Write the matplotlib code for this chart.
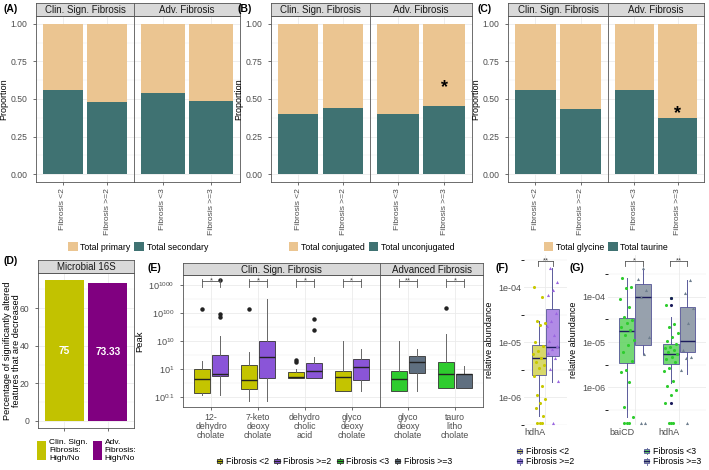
import numpy as np
import matplotlib
matplotlib.use('Agg')
import matplotlib.pyplot as plt
from matplotlib.patches import Rectangle, Patch
from matplotlib.lines import Line2D
from matplotlib.legend_handler import HandlerBase

plt.rcParams['font.family'] = ['Liberation Sans', 'DejaVu Sans']
plt.rcParams['mathtext.fontset'] = 'custom'
plt.rcParams['mathtext.rm'] = 'Liberation Sans'
plt.rcParams['mathtext.it'] = 'Liberation Sans:italic'
plt.rcParams['mathtext.bf'] = 'Liberation Sans:bold'

# ---------------- data ----------------
facet_names = ['Clin. Sign. Fibrosis', 'Adv. Fibrosis']
facet_groups = [['Fibrosis <2', 'Fibrosis >=2'], ['Fibrosis <3', 'Fibrosis >=3']]
A_secondary = [[0.560, 0.482], [0.542, 0.487]]
B_unconjugated = [[0.399, 0.439], [0.399, 0.454]]
C_taurine = [[0.557, 0.434], [0.561, 0.376]]
A_legend = ['Total primary', 'Total secondary']
B_legend = ['Total conjugated', 'Total unconjugated']
C_legend = ['Total glycine', 'Total taurine']
B_star = (1, 1, 0.573)   # facet, bar, height
C_star = (1, 1, 0.405)

D_labels = ['Clin. Sign.\nFibrosis:\nHigh/No', 'Adv.\nFibrosis:\nHigh/No']
D_values = [75, 73.33]
D_text = ['75', '73.33']

E_facets = ['Clin. Sign. Fibrosis', 'Advanced Fibrosis']
E_groups1 = ['12-\ndehydro\ncholate', '7-keto\ndeoxy\ncholate', 'dehydro\ncholic\nacid', 'glyco\ndeoxy\ncholate']
E_groups2 = ['glyco\ndeoxy\ncholate', 'tauro\nlitho\ncholate']
E_legend = ['Fibrosis <2', 'Fibrosis >=2', 'Fibrosis <3', 'Fibrosis >=3']
# box stats in units of log10(Peak): whislo, q1, med, q3, whishi, fliers
E_low1 = [(0.118, 0.143, 0.43, 0.975, 1.93, [142]),
          (0.074, 0.188, 0.394, 1.39, 3.95, [142]),
          (0.46, 0.46, 0.50, 0.78, 1.03, [1.82, 2.1]),
          (0.168, 0.168, 0.518, 0.869, 10.0, [])]
E_high1 = [(0.118, 0.54, 0.68, 3.24, 15.1, [74, 92, 1500]),
           (0.074, 0.477, 2.68, 10.3, 316, []),
           (0.49, 0.49, 0.83, 1.68, 2.75, [24.7, 59.6]),
           (0.168, 0.40, 1.15, 2.28, 5.06, [])]
E_low2 = [(0.168, 0.168, 0.451, 0.869, 10.0, []),
          (0.205, 0.205, 0.647, 1.73, 18.2, [155])]
E_high2 = [(0.168, 0.738, 1.73, 2.91, 5.06, []),
           (0.205, 0.205, 0.637, 0.663, 1.28, [])]
E_sig1 = ['*', '*', '*', '*']
E_sig2 = ['**', '*']
E_ticks = [0.1, 1, 10, 100, 1000]
E_ticklabels = [r'$10^{0.1}$', r'$10^{1}$', r'$10^{10}$', r'$10^{100}$', r'$10^{1000}$']

# F / G : log10(relative abundance)
F_gene = ['hdhA']
F_low_box = (-6.34, -5.586, -5.284, -5.056, -4.622)
F_high_box = (-5.718, -5.255, -5.085, -4.392, -3.646)
F_low_pts = [-4.0, -4.18, -4.61, -4.65, -4.69, -4.99, -5.07, -5.16, -5.22, -5.28, -5.35,
             -5.41, -5.46, -5.62, -5.80, -5.95, -6.02, -6.10, -6.20, -6.34]
F_high_pts = [-3.65, -3.90, -4.05, -4.14, -4.47, -4.62, -4.71, -4.86, -4.98, -5.07, -5.13,
              -5.19, -5.28, -5.49, -5.71]
F_zero = -6.46
F_zero_counts = [3, 1]
F_legend = ['Fibrosis <2', 'Fibrosis >=2']

G_genes = ['baiCD', 'hdhA']
G_low_box = [(-6.649, -5.470, -4.757, -4.477, -3.581),
             (-5.905, -5.492, -5.272, -5.051, -4.442)]
G_high_box = [(-5.272, -5.066, -4.013, -3.726, -3.36),
              (-5.713, -5.214, -4.971, -4.234, -3.631)]
G_low_pts = [[-3.58, -3.78, -3.81, -4.04, -4.22, -4.44, -4.51, -4.59, -4.66, -4.74, -4.85,
              -4.96, -5.07, -5.21, -5.43, -5.62, -5.66, -5.88, -6.43, -6.65],
             [-4.02, -4.18, -4.61, -4.66, -4.79, -4.88, -4.97, -5.05, -5.10, -5.14, -5.18,
              -5.23, -5.27, -5.32, -5.37, -5.45, -5.58, -5.64, -5.86, -5.96, -6.06, -6.17, -6.35]]
G_high_pts = [[-3.36, -3.61, -3.85, -4.0, -4.88, -5.27],
              [-3.63, -3.92, -4.26, -4.59, -5.18, -5.33, -5.35, -5.61]]
G_low_outliers = [[], [-4.02, -4.18, -6.35]]
G_zero = -6.795
G_zero_counts = [[3, 2], [3, 1]]
G_sig = ['*', '**']
F_sig = ['**']
G_legend = ['Fibrosis <3', 'Fibrosis >=3']

# ---------------- style ----------------
TAN = '#EBC591'
TEAL = '#3F7272'
D_COLORS = ['#C2C200', '#800080']
E_COLORS = ['#C4C400', '#8A55D8', '#2ECC2E', '#5F6F80']
FG_FILL = ['#D4D45A', '#A97FE4', '#66D466', '#8C97A4']
FG_PT = ['#C8C800', '#9A66E0', '#2ECC2E', '#6E7E8E']
FG_EDGE = '#5A5A9A'
FG_MED = '#1C1C5C'
GRID = '#EBEBEB'
BORDER = '#555555'
STRIP = '#D9D9D9'
TXT = '#4D4D4D'

W, H = 709, 470
fig = plt.figure(figsize=(W / 100, H / 100), dpi=100)


def ax_px(x0, y0, x1, y1):
    return fig.add_axes([x0 / W, 1 - y1 / H, (x1 - x0) / W, (y1 - y0) / H])


def strip(x0, x1, y0, y1, text, fs=7):
    s = ax_px(x0, y0, x1, y1)
    s.set_facecolor(STRIP)
    s.set_xticks([]); s.set_yticks([])
    for sp in s.spines.values():
        sp.set_color(BORDER); sp.set_linewidth(0.6)
    s.text(0.5, 0.45, text, ha='center', va='center', fontsize=fs, color='#1A1A1A',
           transform=s.transAxes)
    return s


def style_frame(ax):
    for sp in ax.spines.values():
        sp.set_color(BORDER); sp.set_linewidth(0.6)
    ax.tick_params(length=2.5, width=0.5, color='#333333', labelcolor=TXT)
    ax.set_axisbelow(True)


def panel_letter(x, y, t):
    fig.text(x / W, 1 - y / H, t, fontsize=7.5, fontweight='bold', ha='left', va='center')


# ---------------- A / B / C ----------------
def prop_panel(xs, vals, leg, star, letter, lx):
    for fi in range(2):
        ax = ax_px(xs[fi], 16, xs[fi + 1], 182)
        strip(xs[fi], xs[fi + 1], 3, 16, facet_names[fi])
        x = np.arange(1, 3)
        v = np.array(vals[fi])
        ax.bar(x, v, width=0.9, color=TEAL, zorder=2)
        ax.bar(x, 1 - v, bottom=v, width=0.9, color=TAN, zorder=2)
        ax.set_xlim(0.4, 2.6)
        ax.set_ylim(-0.053, 1.053)
        ax.set_xticks(x)
        ax.set_xticklabels(facet_groups[fi], rotation=90, fontsize=6.1, va='top', ha='center')
        ax.set_yticks([0, 0.25, 0.5, 0.75, 1.0])
        ax.set_yticks([0.125, 0.375, 0.625, 0.875], minor=True)
        ax.grid(which='major', color=GRID, lw=0.6)
        ax.grid(which='minor', axis='y', color=GRID, lw=0.3)
        style_frame(ax)
        ax.tick_params(axis='x', pad=2)
        ax.tick_params(which='minor', length=0)
        if fi == 0:
            ax.set_yticklabels(['0.00', '0.25', '0.50', '0.75', '1.00'], fontsize=6.2)
            ax.set_ylabel('Proportion', fontsize=6.5, labelpad=2)
        else:
            ax.tick_params(axis='y', length=0, labelleft=False)
        if star is not None and star[0] == fi:
            ax.text(x[star[1]], star[2], '*', fontsize=13, fontweight='bold',
                    ha='center', va='center', zorder=3)
    cx = (xs[0] + xs[2]) / 2
    handles = [Patch(facecolor=TAN), Patch(facecolor=TEAL)]
    fig.legend(handles, leg, loc='center', bbox_to_anchor=(cx / W, 1 - 247 / H), ncol=2,
               frameon=False, fontsize=6.3, handlelength=1.1, handleheight=1.1,
               handletextpad=0.3, columnspacing=0.45, borderpad=0, borderaxespad=0)
    panel_letter(lx, 9, letter)


prop_panel([36, 134, 240], A_secondary, A_legend, None, '(A)', 4)
prop_panel([271, 370, 472], B_unconjugated, B_legend, B_star, '(B)', 237)
prop_panel([508, 608, 704], C_taurine, C_legend, C_star, '(C)', 478)

# ---------------- D ----------------
axD = ax_px(38, 273, 134, 428)
strip(38, 134, 260, 273, 'Microbial 16S')
xd = np.arange(1, 3)
axD.bar(xd, D_values, width=0.9, color=D_COLORS, zorder=2)
for xi, vi, ti in zip(xd, D_values, D_text):
    axD.text(xi, vi / 2, ti, color='white', fontsize=7.3, fontweight='bold',
             ha='center', va='center', zorder=3)
axD.set_xlim(0.4, 2.6)
axD.set_ylim(-3.75, 78.75)
axD.set_yticks([0, 20, 40, 60])
axD.set_yticks([10, 30, 50, 70], minor=True)
axD.set_xticks(xd)
axD.set_xticklabels(['', ''])
axD.grid(which='major', color=GRID, lw=0.6)
axD.grid(which='minor', axis='y', color=GRID, lw=0.3)
style_frame(axD)
axD.tick_params(which='minor', length=0)
axD.tick_params(axis='y', labelsize=6.2)
axD.set_ylabel('Percentage of significantly altered\nfeatures that are decreased',
               fontsize=6.6, linespacing=1.05)
axD.yaxis.set_label_coords(-17 / 96, 0.5)
fig.legend([Patch(facecolor=c) for c in D_COLORS], D_labels, loc='upper left',
           bbox_to_anchor=(37 / W, 1 - 439 / H), ncol=2, frameon=False, fontsize=6.0,
           handlelength=1.1, handleheight=3.0, handletextpad=0.35, columnspacing=0.6,
           borderpad=0, borderaxespad=0)
panel_letter(4, 261, '(D)')


# ---------------- E ----------------
def mkstats(t):
    return dict(whislo=t[0], q1=t[1], med=t[2], q3=t[3], whishi=t[4], fliers=t[5])


def E_facet(x0, x1, groups, low, high, sig, colors, first):
    ax = ax_px(x0, 275, x1, 407)
    ax.set_yscale('log')
    n = len(groups)
    pos = np.arange(1, n + 1)
    for stats, off, col in [(low, -0.19, colors[0]), (high, 0.19, colors[1])]:
        ax.bxp([mkstats(s) for s in stats], positions=pos + off, widths=0.34,
               patch_artist=True, showcaps=False, manage_ticks=False,
               boxprops=dict(facecolor=col, edgecolor='#333333', lw=0.6),
               medianprops=dict(color='#222222', lw=1.0),
               whiskerprops=dict(color='#666666', lw=0.7),
               flierprops=dict(marker='o', markersize=2.2, markerfacecolor='#222222',
                               markeredgecolor='#222222'),
               zorder=2)
    # significance brackets
    for p, s in zip(pos, sig):
        xa, xb = p - 0.19, p + 0.19
        yl, yt, yb = 1390, 1700, 850
        ax.plot([xa, xb], [yl, yl], color='#555555', lw=0.6, zorder=3)
        ax.plot([xa, xa], [yb, yt], color='#555555', lw=0.6, zorder=3)
        ax.plot([xb, xb], [yb, yt], color='#555555', lw=0.6, zorder=3)
        ax.text(p, yl * 1.05, s, ha='center', va='center', fontsize=5.5, color='#444444',
                zorder=4)
    ax.set_xlim(0.4, n + 0.6)
    ax.set_ylim(10 ** (-1 - 10 / 28), 10 ** (3 + 10 / 28))
    ax.set_xticks(pos)
    ax.set_xticklabels(groups, fontsize=6.3, linespacing=1.0)
    ax.set_yticks(E_ticks)
    ax.set_yticks([10 ** -0.5, 10 ** 0.5, 10 ** 1.5, 10 ** 2.5], minor=True)
    ax.grid(which='major', color=GRID, lw=0.6)
    ax.grid(which='minor', axis='y', color=GRID, lw=0.3)
    style_frame(ax)
    ax.tick_params(which='minor', length=0, labelleft=False)
    ax.tick_params(axis='x', pad=2)
    if first:
        ax.set_yticklabels(E_ticklabels, fontsize=6.6)
        ax.set_ylabel('Peak', fontsize=6.8, labelpad=3)
    else:
        ax.tick_params(axis='y', length=0, labelleft=False)
    return ax


E_facet(183, 380, E_groups1, E_low1, E_high1, E_sig1, E_COLORS[:2], True)
E_facet(380, 483, E_groups2, E_low2, E_high2, E_sig2, E_COLORS[2:], False)
strip(183, 380, 263, 275, E_facets[0])
strip(380, 483, 263, 275, E_facets[1])
panel_letter(147, 268, '(E)')


class BoxKey:
    def __init__(self, fc, ec, mc):
        self.fc, self.ec, self.mc = fc, ec, mc


class BoxKeyHandler(HandlerBase):
    def create_artists(self, legend, h, xd, yd, w, ht, fs, trans):
        x0, y0 = -xd, -yd
        a = [Line2D([x0 + w / 2] * 2, [y0, y0 + ht], color=h.ec, lw=0.6, transform=trans),
             Rectangle((x0 + w * 0.1, y0 + ht * 0.2), w * 0.8, ht * 0.6, facecolor=h.fc,
                       edgecolor=h.ec, lw=0.6, transform=trans),
             Line2D([x0 + w * 0.1, x0 + w * 0.9], [y0 + ht / 2] * 2, color=h.mc, lw=0.9,
                    transform=trans)]
        return a


fig.legend([BoxKey(c, '#333333', '#222222') for c in E_COLORS], E_legend,
           handler_map={BoxKey: BoxKeyHandler()}, loc='center',
           bbox_to_anchor=(334 / W, 1 - 461.5 / H), ncol=4, frameon=False, fontsize=6.3,
           handlelength=0.8, handleheight=0.8, handletextpad=0.3, columnspacing=0.55,
           borderpad=0, borderaxespad=0)


# ---------------- F / G ----------------
def jitter_offsets(n, width, seed_shift=0.0):
    # deterministic spread of points across the box width
    k = (np.arange(n) * 0.618 + seed_shift) % 1.0
    return (k - 0.5) * width


def fg_box(ax, x, box, fill, width):
    st = dict(whislo=10 ** box[0], q1=10 ** box[1], med=10 ** box[2], q3=10 ** box[3],
              whishi=10 ** box[4], fliers=[])
    ax.bxp([st], positions=[x], widths=width, patch_artist=True, showcaps=False,
           manage_ticks=False,
           boxprops=dict(facecolor=fill, edgecolor=FG_EDGE, lw=0.7, alpha=0.9),
           medianprops=dict(color=FG_MED, lw=1.0),
           whiskerprops=dict(color=FG_EDGE, lw=0.7), zorder=2)


def fg_points(ax, x, vals, color, marker, width, shift):
    vals = np.array(vals)
    ax.scatter(x + jitter_offsets(len(vals), width, shift), 10 ** vals, s=5,
               color=color, marker=marker, lw=0, zorder=3)


def fg_zero(ax, x, yv, count, color, marker, width):
    xs = x + (np.arange(count) - (count - 1) / 2) * width
    ax.scatter(xs, np.full(count, 10 ** yv), s=5, color=color, marker=marker, lw=0,
               zorder=3)


def fg_style(ax, ylo, yhi, labels, positions):
    ax.set_yscale('log')
    ax.set_ylim(10 ** ylo, 10 ** yhi)
    ax.set_yticks([1e-6, 1e-5, 1e-4])
    ax.set_yticklabels(['1e-06', '1e-05', '1e-04'])
    ax.set_yticks([10 ** -3.5, 10 ** -4.5, 10 ** -5.5, 10 ** -6.5], minor=True)
    ax.set_xticks(positions)
    ax.set_xticklabels(labels, ha='right')
    ax.grid(which='major', color=GRID, lw=0.6)
    ax.grid(which='minor', axis='y', color=GRID, lw=0.3)
    ax.set_axisbelow(True)
    for sp in ax.spines.values():
        sp.set_visible(False)
    ax.tick_params(length=0, labelsize=6.5, labelcolor=TXT, pad=2)
    ax.tick_params(which='minor', labelleft=False)
    ax.set_ylabel('relative abundance', fontsize=6.5, labelpad=3)


def fg_bracket(ax, xa, xb, yl, yb, s):
    ax.plot([xa, xb], [10 ** yl] * 2, color='#555555', lw=0.6, zorder=4)
    ax.plot([xa, xa], [10 ** yb, 10 ** yl], color='#555555', lw=0.6, zorder=4)
    ax.plot([xb, xb], [10 ** yb, 10 ** yl], color='#555555', lw=0.6, zorder=4)
    ax.text((xa + xb) / 2, 10 ** yl, s, ha='center', va='center', fontsize=5.5,
            color='#444444', zorder=5)


axF = ax_px(524, 255, 567, 425)
fg_box(axF, 1 - 0.135, F_low_box, FG_FILL[0], 0.30)
fg_box(axF, 1 + 0.165, F_high_box, FG_FILL[1], 0.29)
fg_points(axF, 1 - 0.135, F_low_pts, FG_PT[0], 'o', 0.28, 0.1)
fg_points(axF, 1 + 0.165, F_high_pts, FG_PT[1], '^', 0.26, 0.3)
fg_zero(axF, 1 - 0.12, F_zero, F_zero_counts[0], FG_PT[0], 'o', 0.05)
fg_zero(axF, 1 + 0.17, F_zero, F_zero_counts[1], FG_PT[1], '^', 0.05)
fg_bracket(axF, 1 - 0.15, 1 + 0.17, -3.524, -3.615, F_sig[0])
fg_style(axF, -6.49, -3.416, F_gene, [1])
axF.set_xlim(0.528, 1.494)
fig.legend([BoxKey(c, FG_EDGE, FG_MED) for c in FG_FILL[:2]], F_legend,
           handler_map={BoxKey: BoxKeyHandler()}, loc='upper left',
           bbox_to_anchor=(516 / W, 1 - 447 / H), ncol=1, frameon=False, fontsize=6.3,
           handlelength=0.8, handleheight=0.8, handletextpad=0.35, labelspacing=0.15,
           borderpad=0, borderaxespad=0)
panel_letter(495, 268, '(F)')

axG = ax_px(608, 255, 706, 425)
gpos = np.arange(1, 3)
for i, p in enumerate(gpos):
    fg_box(axG, p - 0.19, G_low_box[i], FG_FILL[2], 0.34)
    fg_box(axG, p + 0.18, G_high_box[i], FG_FILL[3], 0.34)
    fg_points(axG, p - 0.19, G_low_pts[i], FG_PT[2], 'o', 0.32, 0.2 + i * 0.3)
    fg_points(axG, p + 0.18, G_high_pts[i], FG_PT[3], '^', 0.3, 0.5 + i * 0.2)
    if G_low_outliers[i]:
        axG.scatter(np.full(len(G_low_outliers[i]), p - 0.19),
                    10 ** np.array(G_low_outliers[i]), s=5, color=FG_MED, lw=0, zorder=3)
    fg_zero(axG, p - 0.19, G_zero, G_zero_counts[i][0], FG_PT[2], 'o', 0.05)
    fg_zero(axG, p + 0.18, G_zero, G_zero_counts[i][1], FG_PT[3], '^', 0.1)
    fg_bracket(axG, p - 0.22, p + 0.18, -3.212, -3.322, G_sig[i])
fg_style(axG, -6.832, -3.079, G_genes, gpos)
axG.set_xlim(0.393, 2.596)
fig.legend([BoxKey(c, FG_EDGE, FG_MED) for c in FG_FILL[2:]], G_legend,
           handler_map={BoxKey: BoxKeyHandler()}, loc='upper left',
           bbox_to_anchor=(643 / W, 1 - 447 / H), ncol=1, frameon=False, fontsize=6.3,
           handlelength=0.8, handleheight=0.8, handletextpad=0.35, labelspacing=0.15,
           borderpad=0, borderaxespad=0)
panel_letter(570, 268, '(G)')

fig.savefig('out.png', dpi=100)
